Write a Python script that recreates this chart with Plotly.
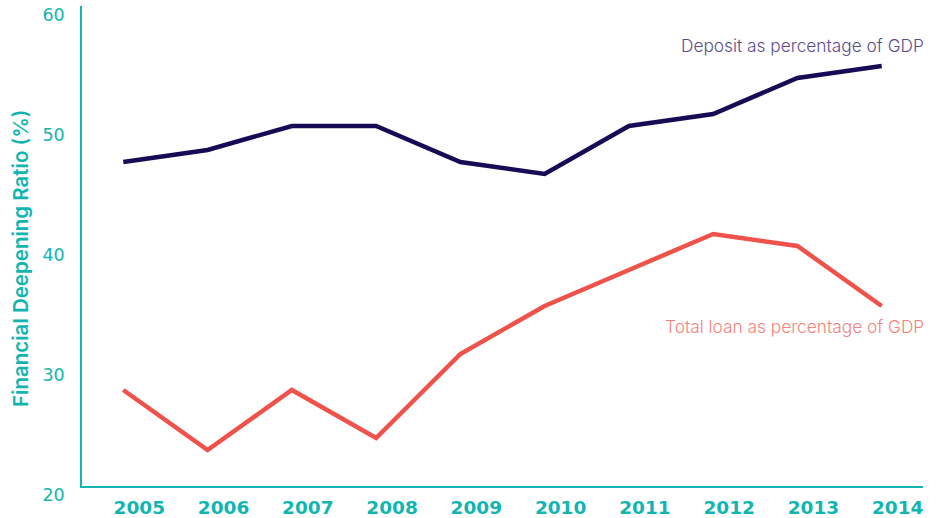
import plotly.graph_objects as go

# Financial deepening indicators, share of GDP (%)
years = [2005, 2006, 2007, 2008, 2009, 2010, 2011, 2012, 2013, 2014]
deposit_pct_gdp = [47, 48, 50, 50, 47, 46, 50, 51, 54, 55]
loan_pct_gdp = [28, 23, 28, 24, 31, 35, 38, 41, 40, 35]
y_ticks = [20, 30, 40, 50, 60]

TEAL = "#12B5B0"
NAVY = "#170B55"
CORAL = "#EF524B"

fig = go.Figure()
fig.add_trace(go.Scatter(
    x=years, y=deposit_pct_gdp, mode="lines",
    line=dict(color=NAVY, width=4.5), name="Deposit as percentage of GDP",
    hoverinfo="x+y",
))
fig.add_trace(go.Scatter(
    x=years, y=loan_pct_gdp, mode="lines",
    line=dict(color=CORAL, width=4.5), name="Total loan as percentage of GDP",
    hoverinfo="x+y",
))

# Series labels at the right end of each line
fig.add_annotation(
    text="Deposit as percentage of GDP", xref="paper", x=1.0, xanchor="right",
    xshift=3, yref="y", y=56.75, yanchor="middle", showarrow=False,
    font=dict(family="Inter", size=17.3, weight=300, color="#5A4E8E"),
)
fig.add_annotation(
    text="Total loan as percentage of GDP", xref="paper", x=1.0, xanchor="right",
    xshift=3, yref="y", y=33.33, yanchor="middle", showarrow=False,
    font=dict(family="Inter", size=17.3, weight=300, color="#F5817C"),
)

# Vertical axis title
fig.add_annotation(
    text="Financial Deepening Ratio (%)", xref="paper", x=(21 - 82) / 841,
    xanchor="center", yref="paper", y=0.473, yanchor="middle",
    textangle=-90, showarrow=False,
    font=dict(family="Inter", size=20.5, weight=600, color=TEAL),
)

fig.update_xaxes(
    range=[2004.51, 2014.49], tickvals=years, ticktext=[str(y) for y in years],
    showgrid=False, zeroline=False, showline=True, linecolor=TEAL, linewidth=1.5,
    ticks="", ticklabelshift=16, ticklabelstandoff=4, automargin=False,
    tickfont=dict(family="DejaVu Sans", size=18.5, weight=700, color=TEAL),
)
fig.update_yaxes(
    range=[20, 60], tickvals=y_ticks,
    showgrid=False, zeroline=False, showline=True, linecolor=TEAL, linewidth=1.5,
    ticks="", ticklabelshift=9, ticklabelstandoff=12, automargin=False,
    tickfont=dict(family="DejaVu Sans", size=17.5, color=TEAL),
)

fig.update_layout(
    width=941, height=518,
    margin=dict(l=82, r=18, t=6, b=32),
    paper_bgcolor="white", plot_bgcolor="white",
    showlegend=False,
)

fig.write_html("out.html")
